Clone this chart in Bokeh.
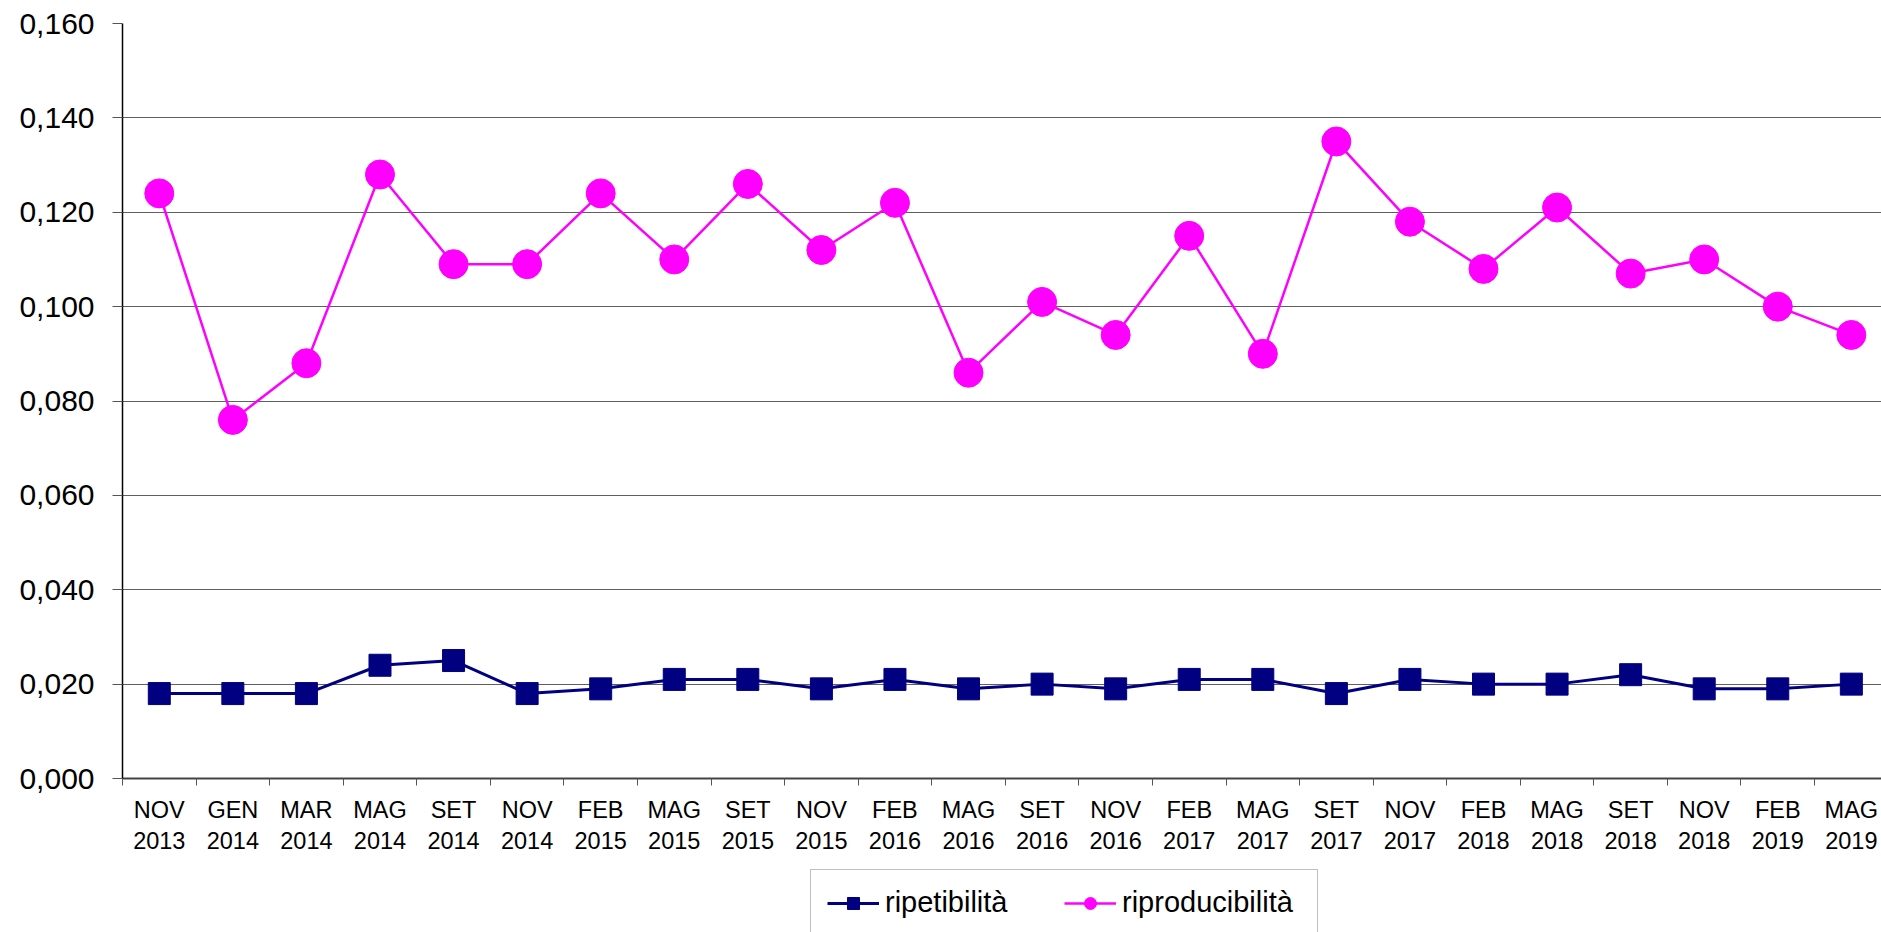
from bokeh.plotting import figure
from bokeh.layouts import column
from bokeh.models import (Range1d, FixedTicker, CustomJSTickFormatter, Legend, LegendItem)
from bokeh.embed import file_html
from bokeh.resources import INLINE

months = ["NOV", "GEN", "MAR", "MAG", "SET", "NOV", "FEB", "MAG", "SET", "NOV", "FEB", "MAG",
          "SET", "NOV", "FEB", "MAG", "SET", "NOV", "FEB", "MAG", "SET", "NOV", "FEB", "MAG"]
years = ["2013", "2014", "2014", "2014", "2014", "2014", "2015", "2015", "2015", "2015", "2016", "2016",
         "2016", "2016", "2017", "2017", "2017", "2017", "2018", "2018", "2018", "2018", "2019", "2019"]
ripetibilita = [0.018, 0.018, 0.018, 0.024, 0.025, 0.018, 0.019, 0.021, 0.021, 0.019, 0.021, 0.019,
                0.020, 0.019, 0.021, 0.021, 0.018, 0.021, 0.020, 0.020, 0.022, 0.019, 0.019, 0.020]
riproducibilita = [0.124, 0.076, 0.088, 0.128, 0.109, 0.109, 0.124, 0.110, 0.126, 0.112, 0.122, 0.086,
                   0.101, 0.094, 0.115, 0.090, 0.135, 0.118, 0.108, 0.121, 0.107, 0.110, 0.100, 0.094]
y_ticks = [0.0, 0.02, 0.04, 0.06, 0.08, 0.10, 0.12, 0.14, 0.16]
series_names = ["ripetibilità", "riproducibilità"]

n = len(months)
xs = list(range(n))
labels = [f"{m}\n{y}" for m, y in zip(months, years)]

FONT = "Liberation Sans"
NAVY = "#000080"
MAGENTA = "#FF00FF"

p = figure(width=1881, height=868, output_backend="svg", toolbar_location=None,
           x_range=Range1d(-0.5, 23.41), y_range=Range1d(0, 0.16),
           min_border_left=122, min_border_top=23, min_border_bottom=90, min_border_right=0)
p.outline_line_color = None
p.background_fill_color = "white"
p.border_fill_color = "white"

# grid
p.xgrid.visible = False
p.ygrid.ticker = FixedTicker(ticks=y_ticks)
p.ygrid.grid_line_color = "#5f5f5f"
p.ygrid.grid_line_width = 1

# y axis
p.yaxis.ticker = FixedTicker(ticks=y_ticks)
p.yaxis.formatter = CustomJSTickFormatter(code="return tick.toFixed(3).replace('.', ',');")
p.yaxis.major_label_text_font = FONT
p.yaxis.major_label_text_font_size = "30px"
p.yaxis.major_label_text_color = "black"
p.yaxis.major_tick_out = 10
p.yaxis.major_tick_in = 0
p.yaxis.minor_tick_out = 0
p.yaxis.minor_tick_in = 0
p.yaxis.major_label_standoff = 18
p.yaxis.axis_line_color = "black"
p.yaxis.axis_line_width = 1.5
p.yaxis.major_tick_line_color = "#555555"

# x axis
p.xaxis.ticker = FixedTicker(ticks=xs, minor_ticks=[i - 0.5 for i in range(n + 1)])
p.xaxis.major_label_overrides = {i: lab for i, lab in zip(xs, labels)}
p.xaxis.major_label_text_font = FONT
p.xaxis.major_label_text_font_size = "23.5px"
p.xaxis.major_label_text_color = "black"
p.xaxis.major_tick_out = 0
p.xaxis.major_tick_in = 0
p.xaxis.minor_tick_out = 7
p.xaxis.minor_tick_in = 0
p.xaxis.minor_tick_line_color = "#555555"
p.xaxis.major_label_standoff = 11
p.xaxis.axis_line_color = "#444444"
p.xaxis.axis_line_width = 2

# series
p.line(xs, ripetibilita, line_color=NAVY, line_width=3)
p.scatter(xs, ripetibilita, marker="square", size=22, fill_color=NAVY, line_color=NAVY)
p.line(xs, riproducibilita, line_color=MAGENTA, line_width=2.5)
p.scatter(xs, riproducibilita, marker="circle", size=29, fill_color=MAGENTA, line_color=MAGENTA)

# legend strip (a second figure whose frame clips the legend box like the reference)
p2 = figure(width=1881, height=64, output_backend="svg", toolbar_location=None,
            x_range=Range1d(0, 1), y_range=Range1d(0, 1),
            min_border_left=0, min_border_right=0, min_border_top=0, min_border_bottom=0)
p2.axis.visible = False
p2.grid.visible = False
p2.outline_line_color = None
p2.border_fill_color = "white"

ll1 = p2.line([-5, -4], [-5, -5], line_color=NAVY, line_width=3)
lm1 = p2.scatter([-5], [-5], marker="square", size=16, fill_color=NAVY, line_color=NAVY)
ll2 = p2.line([-5, -4], [-5, -5], line_color=MAGENTA, line_width=2.5)
lm2 = p2.scatter([-5], [-5], marker="circle", size=18, fill_color=MAGENTA, line_color=MAGENTA)

legend = Legend(items=[LegendItem(label=series_names[0], renderers=[ll1, lm1]),
                       LegendItem(label=series_names[1], renderers=[ll2, lm2])],
                orientation="horizontal", location=(688, -4))
legend.label_text_font = FONT
legend.label_text_font_size = "29px"
legend.label_text_color = "black"
legend.glyph_width = 52
legend.glyph_height = 30
legend.label_height = 30
legend.label_width = 179
legend.label_standoff = 6
legend.spacing = 0
legend.padding = 16
legend.margin = 0
legend.border_line_color = "#808080"
legend.border_line_width = 1.5
legend.background_fill_alpha = 1
p2.add_layout(legend, "center")

layout = column(p, p2, spacing=0)
open("out.html", "w").write(file_html(layout, INLINE))
